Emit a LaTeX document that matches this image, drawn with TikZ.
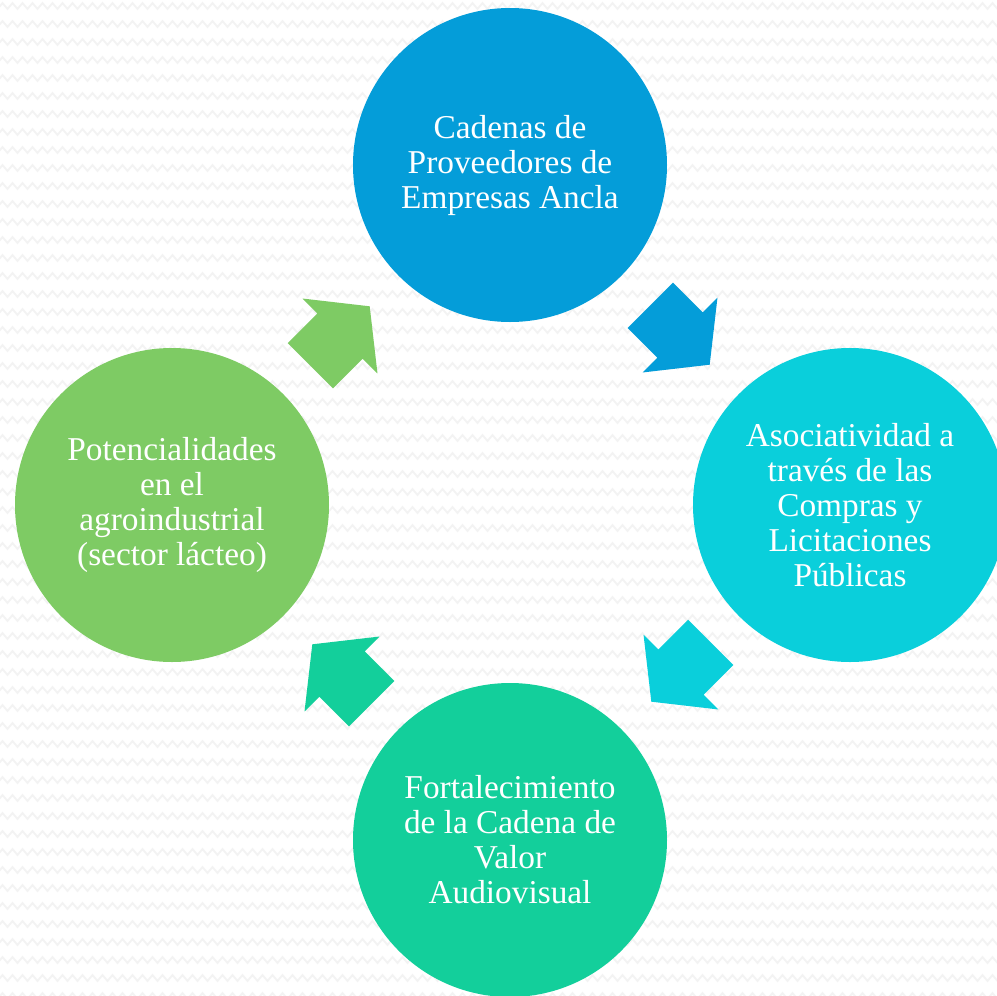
\documentclass[tikz,border=0pt]{standalone}
\usepackage{fontspec}
\setmainfont{Liberation Serif}
\usetikzlibrary{decorations.pathmorphing}
\definecolor{ctop}{HTML}{049DD9}
\definecolor{cright}{HTML}{0ACFDB}
\definecolor{cbottom}{HTML}{13CF9B}
\definecolor{cleft}{HTML}{7ECB64}
\definecolor{zig}{HTML}{F3F3F3}
\tikzset{
  stage/.style={circle, minimum size=235.5pt, inner sep=0pt, align=center,
    text=white, font=\fontsize{25}{26.25}\selectfont},
  bgzig/.style={draw=zig, line width=1.4pt, decorate,
    decoration={zigzag, segment length=7.5pt, amplitude=2.2pt}},
}
\newcommand{\blockarrow}{(-42,-32) -- (0,-32) -- (0,-53) -- (42,0) -- (0,53) -- (0,32) -- (-42,32) -- cycle}
\begin{document}
\begin{tikzpicture}[x=0.75pt,y=-0.75pt]
\useasboundingbox (0,0) rectangle (997,996);
\fill[white] (0,0) rectangle (997,996);
\begin{scope}
\clip (0,0) rectangle (997,996);
\foreach \yy in {6,24,...,996} {
  \path[bgzig] (-10,\yy) -- (1010,\yy);
}
\node[stage, fill=ctop] (top) at (510,165) {Cadenas de\\Proveedores de\\Empresas Ancla};
\node[stage, fill=cright] (right) at (850,505) {Asociatividad a\\través de las\\Compras y\\Licitaciones\\Públicas};
\node[stage, fill=cbottom] (bottom) at (510,840) {Fortalecimiento\\de la Cadena de\\Valor\\Audiovisual};
\node[stage, fill=cleft] (left) at (172,505) {Potencialidades\\en el\\agroindustrial\\(sector lácteo)};
\end{scope}
\begin{scope}[shift={(680,335)}, rotate=-45]
  \fill[ctop] \blockarrow;
\end{scope}
\begin{scope}[shift={(681,672)}, rotate=-135]
  \fill[cright] \blockarrow;
\end{scope}
\begin{scope}[shift={(342,674)}, rotate=135]
  \fill[cbottom] \blockarrow;
\end{scope}
\begin{scope}[shift={(340,336)}, rotate=45]
  \fill[cleft] \blockarrow;
\end{scope}
\end{tikzpicture}
\end{document}
